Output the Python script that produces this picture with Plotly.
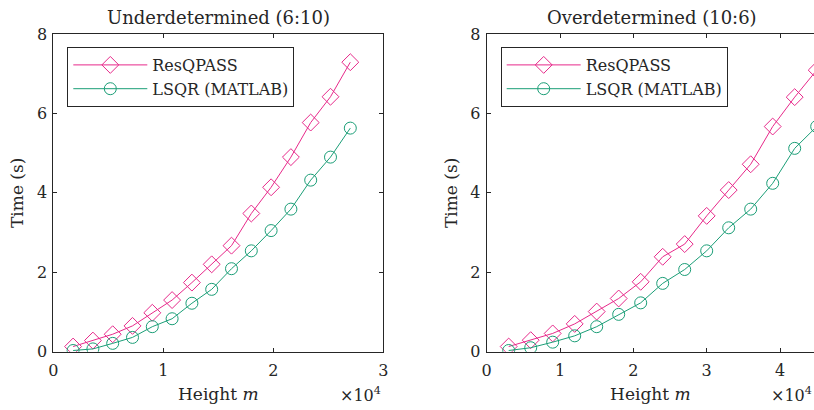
import plotly.graph_objects as go

# Problem heights m (rows) for each aspect ratio
height_under = [1800, 3600, 5400, 7200, 9000, 10800, 12600, 14400, 16200,
                18000, 19800, 21600, 23400, 25200, 27000]
height_over = [3000, 6000, 9000, 12000, 15000, 18000, 21000, 24000, 27000,
               30000, 33000, 36000, 39000, 42000, 45000]

# Runtimes in seconds
resqpass_under = [0.13, 0.28, 0.44, 0.65, 0.98, 1.30, 1.74, 2.20, 2.67,
                  3.48, 4.14, 4.90, 5.77, 6.42, 7.29]
lsqr_under = [0.03, 0.07, 0.21, 0.36, 0.63, 0.83, 1.22, 1.57, 2.09,
              2.54, 3.05, 3.59, 4.32, 4.90, 5.63]
resqpass_over = [0.13, 0.29, 0.46, 0.70, 1.01, 1.34, 1.76, 2.39, 2.71,
                 3.42, 4.07, 4.72, 5.67, 6.41, 7.09]
lsqr_over = [0.03, 0.10, 0.24, 0.40, 0.63, 0.94, 1.23, 1.72, 2.07,
             2.54, 3.12, 3.59, 4.24, 5.12, 5.67]

titles = ["Underdetermined (6:10)", "Overdetermined (10:6)"]
series_names = ["ResQPASS", "LSQR (MATLAB)"]

PINK = "#e7298a"
GREEN = "#1b9e77"
INK = "#262626"
FONT = "DejaVu Serif"

W, H = 814, 410
SCALE = 1e4
PLOT_W = 330

def px_x(p):
    return p / W

def px_y(p):
    return 1 - p / H

fig = go.Figure()

panels = [
    dict(x=height_under, r=resqpass_under, l=lsqr_under, xa="x", ya="y",
         legend="legend", left=53.3, right=383.3, rng=[0, 3],
         ticks=[0, 1, 2, 3], mirror_y="ticks"),
    dict(x=height_over, r=resqpass_over, l=lsqr_over, xa="x2", ya="y2",
         legend="legend2", left=486.7, right=814,
         rng=[0, (814 - 486.7) / 73.33], ticks=[0, 1, 2, 3, 4],
         mirror_y=False),
]

for p in panels:
    xs = [v / SCALE for v in p["x"]]
    fig.add_trace(go.Scatter(
        x=xs, y=p["r"], mode="lines+markers", name=series_names[0],
        xaxis=p["xa"], yaxis=p["ya"], legend=p["legend"],
        line=dict(color=PINK, width=1),
        marker=dict(symbol="diamond-open", size=13, color=PINK,
                    line=dict(width=1, color=PINK)),
    ))
    fig.add_trace(go.Scatter(
        x=xs, y=p["l"], mode="lines+markers", name=series_names[1],
        xaxis=p["xa"], yaxis=p["ya"], legend=p["legend"],
        line=dict(color=GREEN, width=1),
        marker=dict(symbol="circle-open", size=12, color=GREEN,
                    line=dict(width=1, color=GREEN)),
    ))

y_dom = [px_y(351.7), px_y(34)]
axis_common = dict(
    showgrid=False, zeroline=False, showline=True, linecolor=INK, linewidth=1,
    ticks="inside", ticklen=4, tickcolor=INK, tickwidth=1, automargin=False,
    tickfont=dict(family=FONT, size=16, color=INK),
    title_font=dict(family=FONT, size=17, color=INK),
)

layout = dict(
    width=W, height=H, margin=dict(l=0, r=0, t=0, b=0),
    paper_bgcolor="white", plot_bgcolor="white",
    font=dict(family=FONT, color=INK),
    annotations=[],
)

for i, p in enumerate(panels):
    sfx = "" if i == 0 else str(i + 1)
    layout["xaxis" + sfx] = dict(
        axis_common, domain=[px_x(p["left"]), px_x(p["right"])],
        range=p["rng"], tickvals=p["ticks"], anchor="y" + sfx,
        mirror="ticks", ticklabelstandoff=4,
        title=dict(text="Height <i>m</i>", standoff=9),
    )
    layout["yaxis" + sfx] = dict(
        axis_common, domain=y_dom, range=[0, 8], tickvals=[0, 2, 4, 6, 8],
        anchor="x" + sfx, mirror=p["mirror_y"], ticklabelstandoff=2,
        title=dict(text="Time (s)", standoff=8),
    )
    cx = p["left"] + PLOT_W / 2
    layout["annotations"].append(dict(
        text=titles[i], xref="paper", yref="paper", x=px_x(cx), y=px_y(17),
        xanchor="center", yanchor="middle", showarrow=False,
        font=dict(family=FONT, size=18, color=INK),
    ))
    layout["annotations"].append(dict(
        text="×10<sup>4</sup>", xref="paper", yref="paper",
        x=px_x(min(p["left"] + PLOT_W, W)), y=px_y(394),
        xanchor="right", yanchor="middle", showarrow=False,
        font=dict(family=FONT, size=16, color=INK),
    ))
    layout[p["legend"]] = dict(
        x=px_x(p["left"] + 14), y=px_y(47), xanchor="left", yanchor="top",
        xref="paper", yref="paper",
        bgcolor="white", bordercolor=INK, borderwidth=1,
        font=dict(family=FONT, size=16, color=INK),
        itemwidth=74, tracegroupgap=0,
    )

fig.update_layout(**layout)
fig.write_html("out.html")
